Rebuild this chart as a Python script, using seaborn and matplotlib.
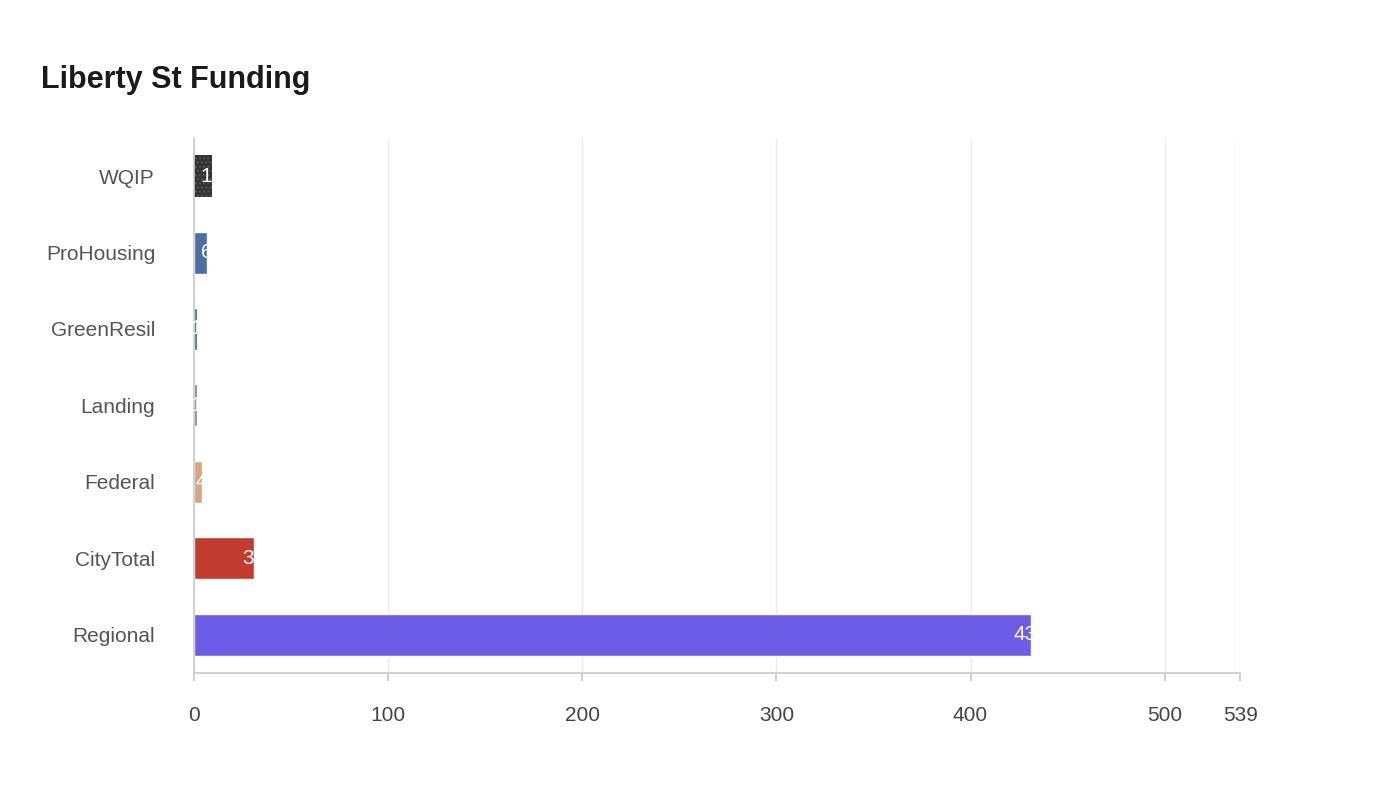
import matplotlib
matplotlib.use("Agg")
import matplotlib.pyplot as plt
import seaborn as sns
import pandas as pd
from matplotlib.patches import FancyBboxPatch

categories = ["WQIP", "ProHousing", "GreenResil", "Landing", "Federal", "CityTotal", "Regional"]
values = [9.5, 6.5, 1.3, 1.3, 4, 31, 431]
colors = ["#333333", "#4a6fa5", "#1f6f8b", "#7f7f7f", "#d9a47e", "#c23b2e", "#6c5ce7"]
xticks = [0, 100, 200, 300, 400, 500, 539]

sns.set_theme(style="white")
plt.rcParams['font.family'] = ['Liberation Sans', 'DejaVu Sans']

df = pd.DataFrame({"cat": categories, "val": values})
fig = plt.figure(figsize=(14, 8), dpi=100)
ax = fig.add_axes([0.1386, 0.159, 0.7474, 0.6685])
sns.barplot(data=df, y="cat", x="val", hue="cat", palette=colors, legend=False,
            orient="h", width=0.55, ax=ax, saturation=1)
for i, p in enumerate(ax.patches):
    if i == 0:
        p.set_hatch("....")
        p.set_edgecolor("#555555")
        p.set_linewidth(0)
    t = ax.text(values[i], i, str(int(round(values[i]))), color="white",
                ha="center", va="center", fontsize=15)
    t.set_clip_path(p)

ax.set_xlim(0, 539)
ax.set_xticks(xticks)
ax.set_xticklabels([str(x) for x in xticks], fontsize=15, color="#444444")
ax.tick_params(axis="y", labelsize=15, labelcolor="#555555", length=0, pad=28)
ax.tick_params(axis="x", length=6, color="#cccccc", pad=18, bottom=True)
ax.set_xlabel("")
ax.set_ylabel("")
ax.grid(axis="x", color="#ebebeb", linewidth=1)
ax.set_axisbelow(True)
for s in ["top", "right"]:
    ax.spines[s].set_visible(False)
for s in ["left", "bottom"]:
    ax.spines[s].set_color("#cccccc")
fig.text(0.029, 0.9, "Liberty St Funding", fontsize=22, fontweight="bold", color="#1a1a1a", va="center")
fig.savefig("out.png", dpi=100)
